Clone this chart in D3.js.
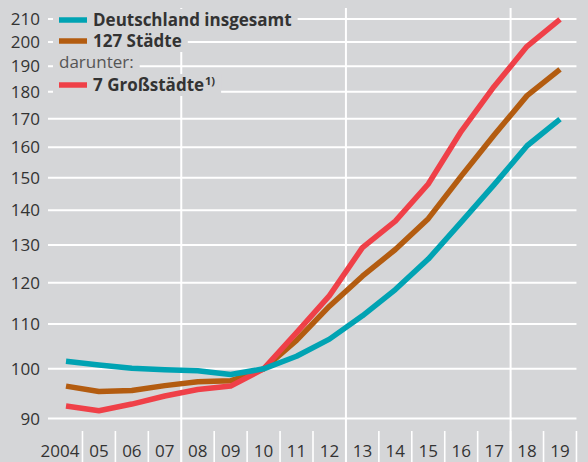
<!DOCTYPE html>
<html>
<head>
<meta charset="utf-8">
<script src="https://cdn.jsdelivr.net/npm/d3@7"></script>
<style>
  body { margin: 0; background: #d5d6d8; }
  svg { display: block; font-family: "Open Sans", sans-serif; }
</style>
</head>
<body>
<script>
const width = 588;
const height = 462;

const years = ['2004','05','06','07','08','09','10','11','12','13','14','15','16','17','18','19'];
const deutschland = [101.6, 100.8, 100.1, 99.8, 99.6, 98.8, 100, 102.7, 106.5, 111.9, 118.3, 126.2, 136.5, 147.8, 160.5, 169.8];
const staedte127 = [96.4, 95.3, 95.5, 96.5, 97.3, 97.5, 100, 106.2, 114.2, 121.7, 128.8, 137.5, 150.5, 164.2, 178.5, 188.7];
const grossstaedte7 = [92.4, 91.5, 92.8, 94.4, 95.7, 96.4, 100, 108, 116.8, 129.3, 136.8, 148, 165.5, 182, 198.2, 209.8];
const yTicks = [90, 100, 110, 120, 130, 140, 150, 160, 170, 180, 190, 200, 210];
const majorBreaks = ['08', '13', '18'];

const svg = d3.select('body').append('svg').attr('width', width).attr('height', height);

svg.append('rect').attr('width', width).attr('height', height).attr('fill', '#d5d6d8');

const x = d3.scalePoint().domain(years).range([66, 560]);
const step = x.step();
const y = d3.scaleLog().domain([90, 210]).range([418.5, 19]);

// horizontal grid
svg.selectAll('.hgrid')
  .data(yTicks)
  .enter()
  .append('line')
  .attr('x1', 48).attr('x2', x('19') + step / 2)
  .attr('y1', d => y(d)).attr('y2', d => y(d))
  .attr('stroke', '#fff').attr('stroke-width', 2);

// vertical grid (every 5 years)
svg.selectAll('.vgrid')
  .data(majorBreaks)
  .enter()
  .append('line')
  .attr('x1', d => x(d) - step / 2).attr('x2', d => x(d) - step / 2)
  .attr('y1', 8).attr('y2', height)
  .attr('stroke', '#fff').attr('stroke-width', 2);

// small ticks between years
const tickPos = years.slice(1).map(d => x(d) - step / 2).concat([x('19') + step / 2]);
svg.selectAll('.xtick')
  .data(tickPos)
  .enter()
  .append('line')
  .attr('x1', d => d).attr('x2', d => d)
  .attr('y1', 431).attr('y2', height)
  .attr('stroke', '#fff').attr('stroke-width', 1.6);

// y labels
svg.selectAll('.ylab')
  .data(yTicks)
  .enter()
  .append('text')
  .attr('x', 40)
  .attr('y', d => y(d))
  .attr('dy', '0.36em')
  .attr('text-anchor', 'end')
  .attr('font-size', 17)
  .attr('fill', '#333')
  .text(d => d);

// x labels
svg.selectAll('.xlab')
  .data(years)
  .enter()
  .append('text')
  .attr('x', (d, i) => i === 0 ? x(d) + step / 2 - 3 : x(d))
  .attr('y', 457)
  .attr('text-anchor', (d, i) => i === 0 ? 'end' : 'middle')
  .attr('font-size', 17)
  .attr('fill', '#333')
  .text(d => d);

const line = d3.line()
  .x((d, i) => x(years[i]))
  .y(d => y(d));

const series = [
  { name: '127 Städte', values: staedte127, color: '#b35c10' },
  { name: '7 Großstädte', values: grossstaedte7, color: '#ef4048' },
  { name: 'Deutschland insgesamt', values: deutschland, color: '#00a3b3' }
];

svg.selectAll('.series')
  .data(series)
  .enter()
  .append('path')
  .attr('d', d => line(d.values))
  .attr('fill', 'none')
  .attr('stroke', d => d.color)
  .attr('stroke-width', 5.5)
  .attr('stroke-linejoin', 'round');

// legend
const legend = svg.append('g');
const items = [
  { text: 'Deutschland insgesamt', color: '#00a3b3', y: 20, bold: true },
  { text: '127 Städte', color: '#b35c10', y: 41, bold: true },
  { text: 'darunter:', color: null, y: 62, bold: false },
  { text: '7 Großstädte', color: '#ef4048', y: 85, bold: true, sup: '1)' }
];

items.forEach(it => {
  const g = legend.append('g');
  const bg = g.append('rect').attr('fill', '#d5d6d8');
  let tx = 93;
  if (it.color) {
    g.append('line')
      .attr('x1', 59).attr('x2', 87)
      .attr('y1', it.y).attr('y2', it.y)
      .attr('stroke', it.color).attr('stroke-width', 5.5);
  } else {
    tx = 59;
  }
  const t = g.append('text')
    .attr('x', tx)
    .attr('y', it.y)
    .attr('dy', '0.36em')
    .attr('font-size', 17)
    .attr('font-weight', it.bold ? 700 : 400)
    .attr('fill', it.bold ? '#333' : '#555')
    .text(it.text);
  let end = tx + t.node().getComputedTextLength();
  if (it.sup) {
    const s = g.append('text')
      .attr('x', end + 1)
      .attr('y', it.y)
      .attr('font-size', 11)
      .attr('font-weight', 700)
      .attr('fill', '#333')
      .text(it.sup);
    end += 1 + s.node().getComputedTextLength();
  }
  bg.attr('x', 53).attr('y', it.y - 11).attr('width', end + 6 - 53).attr('height', 22);
});
</script>
</body>
</html>
